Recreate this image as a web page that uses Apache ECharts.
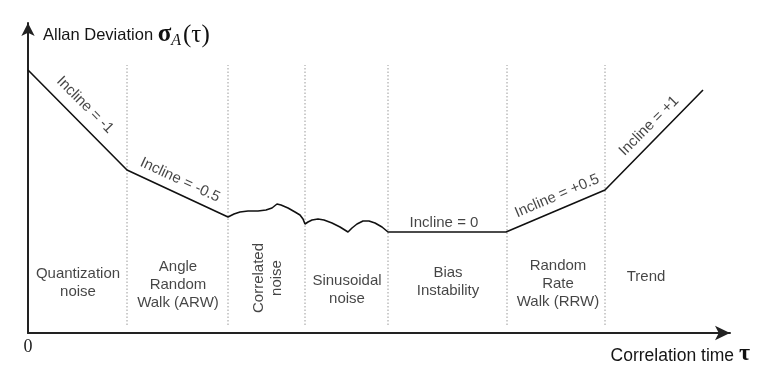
<!DOCTYPE html>
<html>
<head>
<meta charset="utf-8">
<script src="https://cdn.jsdelivr.net/npm/echarts@6/dist/echarts.min.js"></script>
<style>html,body{margin:0;padding:0;background:#fff;}#c{width:768px;height:380px;}</style>
</head>
<body>
<div id="c"></div>
<script>
// Allan deviation curve (x: correlation time units, y: deviation units)
const curveX = [0, 99, 200, 206, 212, 220, 230, 238, 244, 249, 253, 260, 267, 272, 275, 277,
  280, 284, 290, 296, 304, 312, 320, 324, 329, 335, 341, 347, 354, 360, 478, 577, 675];
const curveY = [263, 163, 116, 119, 121, 122, 122, 123, 125, 129, 128, 125, 121, 118, 114, 109,
  111, 113, 114, 113, 110, 106, 101, 105, 109, 112, 112, 110, 106, 101, 101, 143, 243];
// region boundaries
const dividerX = [99, 200, 277, 360, 479, 577];
const dividerRange = [8, 268];
// region names
const regionNames = ['Quantization\nnoise', 'Angle\nRandom\nWalk (ARW)', 'Correlated\nnoise',
  'Sinusoidal\nnoise', 'Bias\nInstability', 'Random\nRate\nWalk (RRW)', 'Trend'];
const regionAnchor = [[50, 50], [150, 48], [240, 55], [319, 43], [420, 51], [530, 49], [618, 56]];
const regionRotate = [0, 0, 90, 0, 0, 0, 0];
// slope annotations
const inclineText = ['Incline = -1', 'Incline = -0.5', 'Incline = 0', 'Incline = +0.5', 'Incline = +1'];
const inclineAnchor = [[57, 228], [152, 153], [416, 110], [529, 137], [621, 207]];
const inclineRotate = [-45, -25, 0, 23, 45];
// axes
const xMax = 702, yMax = 310;
const xTickLabels = ['0'];

const chart = echarts.init(document.getElementById('c'), null, {renderer: 'canvas'});
const txt = '#151515';
const sans = 'Liberation Sans, Arial, sans-serif';
const serif = 'Liberation Serif, Times New Roman, serif';

const series = [];
series.push({
  type: 'line', data: curveX.map((x, i) => [x, curveY[i]]), showSymbol: false, symbol: 'none',
  lineStyle: {color: '#111', width: 1.6}, silent: true, z: 5, clip: false
});
dividerX.forEach(x => {
  series.push({
    type: 'line', data: [[x, dividerRange[0]], [x, dividerRange[1]]], symbol: 'none',
    lineStyle: {color: '#9a9a9a', width: 1, type: [1.5, 2]}, silent: true, z: 2
  });
});
series.push({
  type: 'scatter', symbolSize: 0, silent: true, z: 6,
  data: regionNames.map((n, i) => ({
    value: regionAnchor[i], name: n,
    label: {rotate: regionRotate[i]}
  })),
  label: {show: true, position: 'inside', formatter: p => p.name, color: txt,
    fontFamily: sans, fontSize: 15, lineHeight: 18, align: 'center', verticalAlign: 'middle'}
});
series.push({
  type: 'scatter', symbolSize: 0, silent: true, z: 6,
  data: inclineText.map((n, i) => ({
    value: inclineAnchor[i], name: n,
    label: {rotate: inclineRotate[i]}
  })),
  label: {show: true, position: 'inside', formatter: p => p.name, color: txt,
    fontFamily: sans, fontSize: 15, align: 'center', verticalAlign: 'middle'}
});

chart.setOption({
  animation: false,
  backgroundColor: '#fff',
  grid: {left: 28, right: 38, top: 23, bottom: 47, containLabel: false},
  xAxis: {
    type: 'value', min: 0, max: xMax, interval: 1000,
    name: 'Correlation time {t|τ}', nameLocation: 'end', nameGap: 20,
    nameTextStyle: {
      align: 'right', verticalAlign: 'top', padding: [9, 0, 0, 0],
      color: txt, fontFamily: sans, fontSize: 17.5,
      rich: {t: {fontFamily: serif, fontSize: 24, fontWeight: 'bold', color: '#111', padding: [0, 0, 4, 0]}}
    },
    axisLine: {show: true, symbol: ['none', 'arrow'], symbolSize: [11, 15],
      lineStyle: {color: '#222', width: 2}},
    axisTick: {show: false}, splitLine: {show: false},
    axisLabel: {show: true, margin: 5, showMaxLabel: false, color: '#222',
      fontFamily: serif, fontSize: 18,
      formatter: v => (v === 0 ? xTickLabels[0] : '')}
  },
  yAxis: {
    type: 'value', min: 0, max: yMax, interval: 1000,
    name: '{a|Allan Deviation }{s|σ}{sub|A}{p|(τ)}', nameLocation: 'end', nameGap: -12,
    nameTextStyle: {
      align: 'left', verticalAlign: 'middle', padding: [0, 0, 0, 15],
      rich: {
        a: {fontFamily: sans, fontSize: 16.5, color: txt},
        s: {fontFamily: serif, fontSize: 25, fontWeight: 'bold', color: '#111'},
        sub: {fontFamily: serif, fontSize: 16, fontStyle: 'italic', color: '#111', padding: [12, 2, 0, 0]},
        p: {fontFamily: serif, fontSize: 25, color: '#111'}
      }
    },
    axisLine: {show: true, symbol: ['none', 'arrow'], symbolSize: [10, 13],
      lineStyle: {color: '#222', width: 2}},
    axisTick: {show: false}, splitLine: {show: false}, axisLabel: {show: false}
  },
  series: series
});
</script>
</body>
</html>
